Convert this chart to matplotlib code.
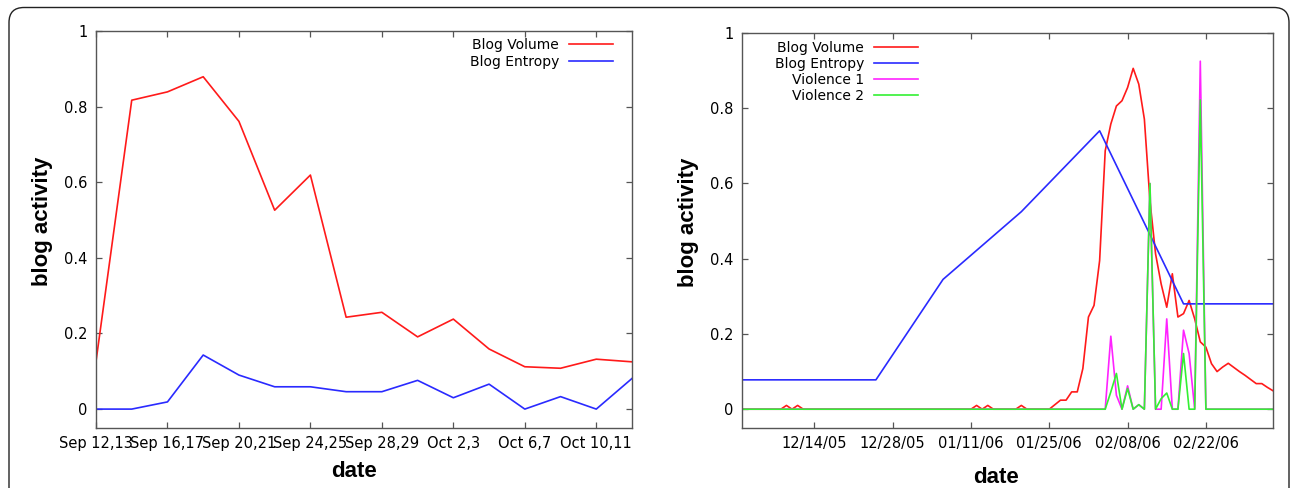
import numpy as np
import pandas as pd
import matplotlib
matplotlib.use("Agg")
import matplotlib.pyplot as plt
import matplotlib.dates as mdates
import matplotlib.transforms as mtransforms
from matplotlib.patches import FancyBboxPatch
from matplotlib.ticker import FuncFormatter

# ---- 左图: 九月/十月 每两天一个点 ----
sep_labels = ["Sep 12,13", "Sep 16,17", "Sep 20,21", "Sep 24,25",
              "Sep 28,29", "Oct 2,3", "Oct 6,7", "Oct 10,11"]
sep_volume = [0.126, 0.817, 0.839, 0.879, 0.761, 0.526, 0.619, 0.243,
              0.256, 0.191, 0.238, 0.159, 0.112, 0.108, 0.132, 0.125]
sep_entropy = [0.0, 0.0, 0.019, 0.143, 0.090, 0.059, 0.059, 0.046,
               0.046, 0.076, 0.030, 0.066, 0.0, 0.033, 0.0, 0.081]

# ---- 右图: 2005/12/01 - 2006/03/06 每日数据 ----
day_start = "2005-12-01"
day_end = "2006-03-06"
volume = [
    0, 0, 0, 0, 0, 0, 0, 0, 0.01, 0, 0.01, 0,
    0, 0, 0, 0, 0, 0, 0, 0, 0, 0, 0, 0,
    0, 0, 0, 0, 0, 0, 0, 0, 0, 0, 0, 0,
    0, 0, 0, 0, 0, 0, 0.01, 0, 0.01, 0, 0, 0,
    0, 0, 0.01, 0, 0, 0, 0, 0, 0.012, 0.024, 0.024, 0.046,
    0.046, 0.108, 0.245, 0.276, 0.395, 0.687, 0.758, 0.806, 0.820, 0.855, 0.906, 0.864,
    0.771, 0.554, 0.413, 0.333, 0.271, 0.360, 0.245, 0.254, 0.289, 0.240, 0.179, 0.165,
    0.121, 0.100, 0.112, 0.122, 0.111, 0.100, 0.090, 0.079, 0.068, 0.068, 0.058, 0.049,
]
violence1 = [
    0, 0, 0, 0, 0, 0, 0, 0, 0, 0, 0, 0,
    0, 0, 0, 0, 0, 0, 0, 0, 0, 0, 0, 0,
    0, 0, 0, 0, 0, 0, 0, 0, 0, 0, 0, 0,
    0, 0, 0, 0, 0, 0, 0, 0, 0, 0, 0, 0,
    0, 0, 0, 0, 0, 0, 0, 0, 0, 0, 0, 0,
    0, 0, 0, 0, 0, 0, 0.194, 0.037, 0, 0.062, 0, 0.012,
    0, 0.600, 0, 0, 0.240, 0, 0, 0.210, 0.148, 0, 0.925, 0,
    0, 0, 0, 0, 0, 0, 0, 0, 0, 0, 0, 0,
]
violence2 = [
    0, 0, 0, 0, 0, 0, 0, 0, 0, 0, 0, 0,
    0, 0, 0, 0, 0, 0, 0, 0, 0, 0, 0, 0,
    0, 0, 0, 0, 0, 0, 0, 0, 0, 0, 0, 0,
    0, 0, 0, 0, 0, 0, 0, 0, 0, 0, 0, 0,
    0, 0, 0, 0, 0, 0, 0, 0, 0, 0, 0, 0,
    0, 0, 0, 0, 0, 0, 0.046, 0.095, 0, 0.055, 0, 0.012,
    0, 0.600, 0, 0.028, 0.043, 0, 0, 0.148, 0, 0, 0.822, 0,
    0, 0, 0, 0, 0, 0, 0, 0, 0, 0, 0, 0,
]
entropy_dates = ["2005-12-01", "2005-12-25", "2006-01-06", "2006-01-20",
                 "2006-02-03", "2006-02-18", "2006-03-06"]
entropy_vals = [0.078, 0.078, 0.345, 0.525, 0.740, 0.280, 0.280]
tick_dates = ["2005-12-14", "2005-12-28", "2006-01-11", "2006-01-25",
              "2006-02-08", "2006-02-22"]

RED = "#ff1a1a"
BLUE = "#2a2aff"
MAGENTA = "#ff22ff"
GREEN = "#33f033"
AXC = "#555555"
LABEL_FONT = dict(family="Liberation Sans", fontsize=16, fontweight="bold")


def style_axes(ax):
    """gnuplot 风格: 刻度朝内, 四边都有"""
    for s in ax.spines.values():
        s.set_color(AXC)
        s.set_linewidth(1.0)
    ax.tick_params(direction="in", top=True, right=True, length=4.5,
                   width=0.9, color=AXC, labelsize=10.5, labelcolor="black")
    ax.tick_params(axis="x", pad=6)
    ax.tick_params(axis="y", pad=6)
    ax.set_ylim(-0.05, 1.0)
    ax.set_yticks([0, 0.2, 0.4, 0.6, 0.8, 1.0])
    ax.yaxis.set_major_formatter(FuncFormatter(lambda v, p: f"{v:g}"))


fig = plt.figure(figsize=(12.9, 4.88), dpi=100)

# 外框 (圆角, 下边在图外)
frame = FancyBboxPatch((9, -30), 1280, 488 - 7.5 + 30,
                       boxstyle="round,pad=0,rounding_size=15",
                       transform=mtransforms.IdentityTransform(),
                       facecolor="none", edgecolor="#222222", linewidth=1.0)
fig.patches.append(frame)

# ---- 左图 ----
ax1 = fig.add_axes([96 / 1290, 60 / 488, 536 / 1290, 397 / 488])
xs = np.arange(len(sep_volume))
ax1.plot(xs, sep_volume, color=RED, lw=1.2, label="Blog Volume")
ax1.plot(xs, sep_entropy, color=BLUE, lw=1.2, label="Blog Entropy")
ax1.set_xlim(0, len(sep_volume) - 1)
ax1.set_xticks(xs[::2])
ax1.set_xticklabels(sep_labels)
style_axes(ax1)
ax1.set_ylabel("blog activity", **LABEL_FONT)
ax1.set_xlabel("date", **LABEL_FONT)
ax1.yaxis.set_label_coords(-0.080, 0.52)
ax1.xaxis.set_label_coords(0.481, -0.083)
ax1.legend(loc="upper right", bbox_to_anchor=(0.965, 0.982), frameon=False,
           markerfirst=False, fontsize=10, handlelength=3.2,
           handletextpad=0.7, labelspacing=0.2, borderpad=0, borderaxespad=0)

# ---- 右图 ----
ax2 = fig.add_axes([741.7 / 1290, 60 / 488, 531.3 / 1290, 395 / 488])
days = pd.date_range(day_start, day_end, freq="D")
ax2.plot(days, volume, color=RED, lw=1.2, label="Blog Volume")
ax2.plot(pd.to_datetime(entropy_dates), entropy_vals, color=BLUE, lw=1.2,
         label="Blog Entropy")
ax2.plot(days, violence1, color=MAGENTA, lw=1.2, label="Violence 1")
ax2.plot(days, violence2, color=GREEN, lw=1.2, label="Violence 2")
ax2.set_xlim(pd.Timestamp(day_start), pd.Timestamp(day_end))
ax2.set_xticks(pd.to_datetime(tick_dates))
ax2.xaxis.set_major_formatter(mdates.DateFormatter("%m/%d/%y"))
style_axes(ax2)
ax2.set_ylabel("blog activity", **LABEL_FONT)
ax2.set_xlabel("date", **LABEL_FONT)
ax2.yaxis.set_label_coords(-0.080, 0.52)
ax2.xaxis.set_label_coords(0.479, -0.099)
ax2.legend(loc="upper right", bbox_to_anchor=(0.332, 0.981), frameon=False,
           markerfirst=False, fontsize=10, handlelength=3.2,
           handletextpad=0.7, labelspacing=0.15, borderpad=0, borderaxespad=0)

fig.savefig("out.png", dpi=100)
